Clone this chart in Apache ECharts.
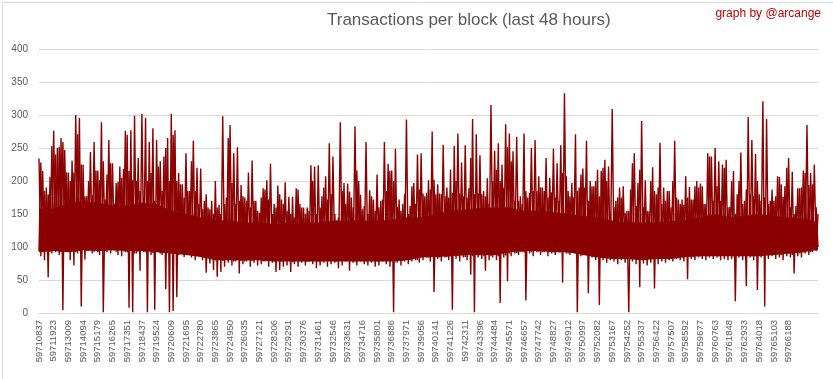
<!DOCTYPE html>
<html><head><meta charset="utf-8">
<script src="https://cdn.jsdelivr.net/npm/echarts@6/dist/echarts.min.js"></script>
<style>html,body{margin:0;padding:0;background:#fff}#c{width:833px;height:379px}</style>
</head><body><div id="c"></div>
<script>
const chartTitle = 'Transactions per block (last 48 hours)';
const credit = 'graph by @arcange';
const yTicks = [0, 50, 100, 150, 200, 250, 300, 350, 400];
const tickLabels = [59710837,59711923,59713009,59714094,59715179,59716265,59717351,59718437,59719524,59720609,59721695,59722780,59723865,59724950,59726035,59727121,59728206,59729291,59730376,59731461,59732546,59733631,59734716,59735801,59736886,59737971,59739056,59740141,59741226,59742311,59743396,59744484,59745571,59746657,59747742,59748827,59749912,59750997,59752082,59753167,59754252,59755337,59756422,59757507,59758592,59759677,59760763,59761848,59762933,59764018,59765103,59766188,59767273];
const pointsPerTick = 8;
// sampled transactions per block: local peaks / troughs, 8 samples per tick interval
const txCounts = [
234,86,215,80,190,54,206,90,
276,92,250,88,265,4,247,95,
213,80,231,72,300,90,296,10,
225,81,177,94,244,90,259,96,
216,88,289,1,172,92,262,90,
227,95,197,88,222,86,218,92,
270,8,277,1,299,90,235,64,
302,92,296,1,259,88,280,5,
262,94,230,88,237,36,265,1,
302,3,277,24,212,90,195,85,
242,88,185,84,261,80,220,86,
219,80,170,61,160,75,170,65,
200,55,164,62,298,70,175,76,
285,72,242,78,251,60,194,74,
175,78,213,70,231,76,170,72,
152,74,189,78,201,70,226,76,
165,62,193,65,172,70,198,72,
176,62,176,74,189,70,165,76,
160,72,160,78,224,74,222,68,
224,72,177,76,207,70,257,74,
237,76,140,68,289,72,197,78,
196,64,175,76,283,72,200,78,
157,74,259,72,186,76,172,70,
210,72,170,78,259,74,226,70,
216,1,249,76,172,72,165,78,
293,74,162,78,197,80,240,76,
242,80,177,84,201,78,275,32,
180,82,181,78,255,84,190,80,
217,5,253,82,272,78,228,84,
254,80,189,58,294,1,271,84,
239,82,185,64,204,80,315,84,
246,80,257,15,225,84,286,48,
272,86,245,90,267,88,177,92,
272,19,175,90,250,86,262,92,
207,88,190,92,235,86,205,90,
249,88,227,92,254,46,333,90,
185,88,197,92,271,1,190,86,
219,88,261,30,200,84,192,80,
217,12,215,80,232,76,222,80,
309,78,170,74,190,80,192,76,
155,1,187,78,242,74,197,39,
291,75,201,72,154,76,221,37,
180,74,258,78,190,76,185,80,
160,78,261,82,172,80,172,78,
207,51,191,82,172,80,200,84,
196,82,165,80,242,84,237,82,
250,84,230,80,225,82,232,80,
161,82,215,18,180,84,243,80,
170,41,297,84,262,80,241,35,
180,84,321,10,294,82,170,86,
170,82,207,84,195,80,192,86,
235,84,214,60,162,86,189,84,
216,90,285,88,212,92,225,94,
150];
// secondary samples at the same positions: the blocks between the peaks above
const txCountsAlt = [
94,228,92,185,95,180,93,253,
95,240,94,252,92,259,96,213,
93,200,95,213,92,271,94,225,
96,177,94,200,95,178,93,216,
92,201,95,230,94,210,96,227,
95,165,93,199,96,205,94,276,
92,215,94,202,90,200,93,185,
94,170,92,200,95,212,91,170,
93,222,90,185,94,250,92,200,
90,270,92,200,88,195,91,175,
88,185,90,230,87,185,89,165,
86,157,84,180,85,157,82,150,
80,160,82,150,79,165,81,265,
80,197,78,165,81,170,79,177,
78,170,80,160,79,170,81,155,
80,175,78,187,80,172,79,150,
78,160,80,180,78,165,80,155,
79,150,77,145,80,187,78,160,
80,150,78,155,80,200,79,150,
78,160,80,190,79,172,81,180,
80,150,78,145,80,185,79,165,
79,184,81,160,78,216,80,179,
80,162,78,150,80,177,79,155,
78,160,80,172,79,185,81,215,
80,200,78,161,80,155,79,180,
81,150,80,192,82,165,80,187,
84,181,86,182,84,187,85,202,
86,195,84,180,87,177,85,175,
86,182,88,200,86,181,87,177,
85,175,88,235,86,180,88,181,
87,180,86,177,88,165,86,200,
88,217,86,200,89,190,87,251,
90,230,92,170,91,170,93,165,
92,185,94,182,92,185,94,185,
93,190,92,185,94,175,92,183,
92,175,94,170,92,212,93,207,
90,177,92,175,90,185,91,210,
90,190,88,170,90,192,88,200,
86,177,85,220,84,200,85,150,
83,160,84,175,82,175,84,152,
82,155,84,227,82,162,83,217,
82,160,83,155,82,200,84,185,
83,190,82,165,84,170,83,185,
84,200,83,175,85,165,84,164,
85,175,86,172,85,192,87,190,
86,192,88,165,86,237,87,170,
87,192,86,170,88,220,86,160,
88,200,86,150,88,200,87,165,
87,187,88,180,86,177,88,200,
88,170,87,175,89,165,88,187,
88,177,89,206,88,176,90,220,
90,160,88,150,91,189,90,190,
92,212,94,194,92,195,95,160,
100];
// dense core of the trace (solid band), read at each tick label position
const coreLow = [92,94,92,95,94,95, 94,94,92,90,88,85, 80,80,80,80,78,78, 78,78,78,78,78,78,78, 80,84,85,86,88,88, 88,92,94,94,92,92,88, 84,82,82,80,82,82, 85,86,86,86,86,86,88, 90,92,96];
const coreHigh = [158,158,166,170,167,163, 163,167,165,155,150,145, 141,140,137,137,135,137, 137,137,140,140,140,140,141, 145,145,150,155,157,159, 160,160,155,155,153,150,147, 145,140,137,137,137,139, 141,145,150,145,147,150,147, 145,143,137];

const categories = [];
for (let i = 0; i < tickLabels.length; i++) {
  const a = tickLabels[i];
  const b = i + 1 < tickLabels.length ? tickLabels[i + 1] : a + 1085;
  for (let j = 0; j < pointsPerTick; j++) categories.push(String(Math.round(a + j * (b - a) / pointsPerTick)));
}
categories.push(String(tickLabels[tickLabels.length - 1] + 1085));
const bandCategories = tickLabels.map(String).concat([String(tickLabels[tickLabels.length - 1] + 1085)]);
const labelSet = new Set(tickLabels.map(String));
const coreSpan = coreHigh.map((h, i) => h - coreLow[i]);
const RED = '#8b0000';

const chart = echarts.init(document.getElementById('c'), null, {renderer: 'canvas'});
chart.setOption({
  animation: false,
  backgroundColor: '#ffffff',
  textStyle: {fontFamily: 'Liberation Sans, Arial, sans-serif'},
  graphic: [
    {type: 'rect', left: 0, top: 0, shape: {x: 0.5, y: 0.5, width: 832, height: 378}, style: {fill: 'none', stroke: '#d9d9d9', lineWidth: 1}, silent: true},
    {type: 'text', left: 327, top: 12, style: {text: chartTitle, fill: '#595959', font: '17px "Liberation Sans Narrow", "Liberation Sans", Arial, sans-serif'}},
    {type: 'text', right: 12, top: 8, style: {text: credit, fill: '#c00000', font: '12px "Liberation Sans Narrow", "Liberation Sans", Arial, sans-serif'}}
  ],
  grid: {left: 39, right: 15, top: 49, bottom: 66, containLabel: false},
  xAxis: [{
    type: 'category',
    data: categories,
    boundaryGap: false,
    axisLine: {lineStyle: {color: '#d9d9d9'}},
    axisTick: {show: false},
    splitLine: {show: false},
    axisLabel: {
      rotate: 90,
      margin: 7,
      color: '#595959',
      fontSize: 9.5,
      fontFamily: 'Liberation Sans, Arial, sans-serif',
      interval: function (idx, val) { return labelSet.has(val); },
      showMaxLabel: false
    }
  }, {
    type: 'category',
    data: bandCategories,
    boundaryGap: false,
    show: false
  }],
  yAxis: {
    type: 'value',
    min: yTicks[0],
    max: yTicks[yTicks.length - 1],
    interval: 50,
    axisLine: {show: false},
    axisTick: {show: false},
    splitLine: {lineStyle: {color: '#d9d9d9'}},
    axisLabel: {color: '#595959', fontSize: 10, margin: 11}
  },
  series: [{
    type: 'line',
    xAxisIndex: 1,
    stack: 'core',
    data: coreLow,
    showSymbol: false,
    symbol: 'none',
    lineStyle: {width: 0, opacity: 0},
    silent: true
  }, {
    type: 'line',
    xAxisIndex: 1,
    stack: 'core',
    data: coreSpan,
    showSymbol: false,
    symbol: 'none',
    lineStyle: {width: 0, opacity: 0},
    areaStyle: {color: RED, opacity: 1},
    silent: true
  }, {
    type: 'line',
    data: txCountsAlt,
    showSymbol: false,
    symbol: 'none',
    sampling: null,
    lineStyle: {color: RED, width: 1.4},
    itemStyle: {color: RED}
  }, {
    type: 'line',
    data: txCounts,
    showSymbol: false,
    symbol: 'none',
    sampling: null,
    lineStyle: {color: RED, width: 1.4},
    itemStyle: {color: RED}
  }]
});
</script>
</body></html>
